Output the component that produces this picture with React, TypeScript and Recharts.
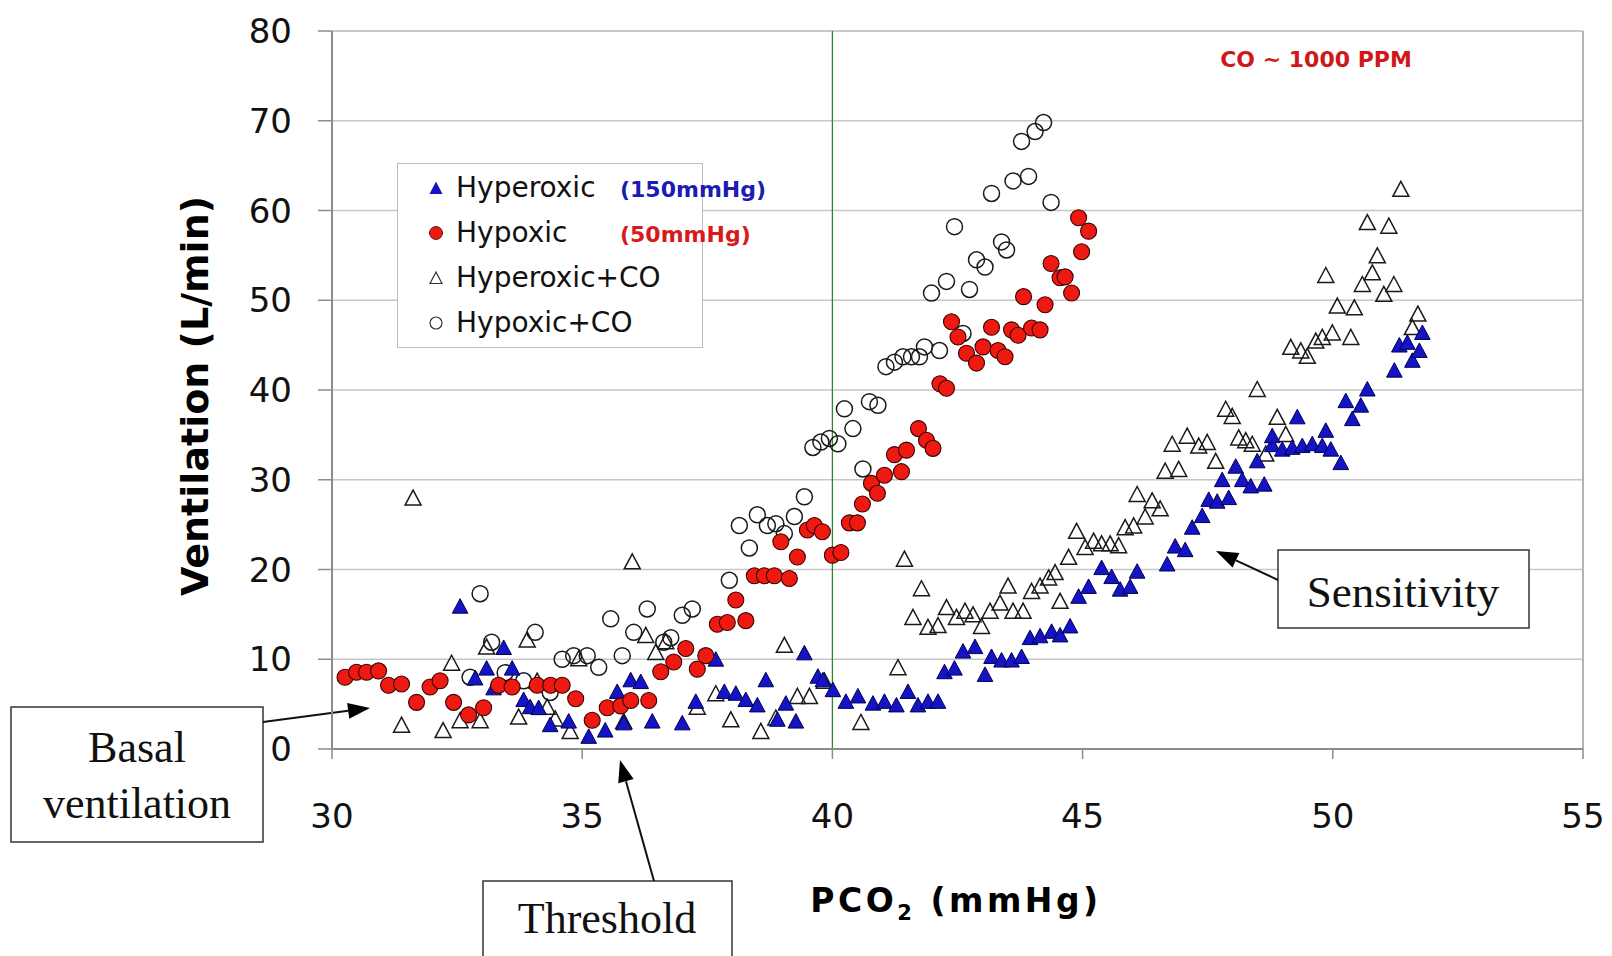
import React from 'react'
import {
  ScatterChart,
  Scatter,
  XAxis,
  YAxis,
  CartesianGrid,
  ReferenceLine,
  Legend,
  Customized,
} from 'recharts'

// PCO2 (mmHg) vs ventilation (L/min)
const xTicks = [30, 35, 40, 45, 50, 55]
const yTicks = [0, 10, 20, 30, 40, 50, 60, 70, 80]

const hyperoxic: number[][] = [
  [32.56, 15.8], [32.86, 7.8], [33.09, 8.9], [33.23, 6.7], [33.43, 11.2], [33.6, 8.9], [33.83, 5.4],
  [33.96, 4.6], [34.13, 4.5], [34.36, 2.6], [34.73, 3.0], [35.13, 1.3], [35.46, 2.0], [35.7, 6.3],
  [35.83, 2.8], [35.97, 7.6], [36.17, 7.4], [36.4, 3.0], [37.0, 2.8], [37.27, 5.2], [37.67, 9.9],
  [37.84, 6.3], [38.07, 6.1], [38.27, 5.4], [38.5, 4.8], [38.67, 7.6], [38.9, 3.2], [39.07, 5.0],
  [39.27, 3.0], [39.44, 10.6], [39.71, 8.0], [39.81, 7.6], [40.01, 6.5], [40.27, 5.2], [40.51, 5.8],
  [40.81, 5.0], [41.04, 5.2], [41.28, 4.8], [41.51, 6.3], [41.71, 4.8], [41.91, 5.2], [42.11, 5.2],
  [42.24, 8.5], [42.44, 8.9], [42.61, 10.8], [42.85, 11.3], [43.05, 8.2], [43.18, 10.2], [43.38, 9.8],
  [43.58, 9.8], [43.78, 10.2], [43.95, 12.3], [44.15, 12.5], [44.38, 13.0], [44.55, 12.6], [44.75, 13.6],
  [44.92, 16.9], [45.12, 18.0], [45.38, 20.1], [45.58, 19.1], [45.75, 17.7], [45.95, 18.0], [46.09, 19.7],
  [46.69, 20.5], [46.85, 22.5], [47.05, 22.1], [47.19, 24.6], [47.39, 25.9], [47.52, 27.7], [47.69, 27.5],
  [47.92, 27.9], [47.79, 29.9], [48.06, 31.4], [48.19, 29.9], [48.36, 29.2], [48.63, 29.4], [48.49, 32.0],
  [48.79, 33.8], [48.79, 34.8], [48.99, 33.3], [49.19, 33.5], [49.29, 36.9], [49.39, 33.7], [49.59, 33.9],
  [49.79, 33.7], [49.86, 35.4], [49.96, 33.3], [50.16, 31.8], [50.26, 38.7], [50.39, 36.7], [50.56, 38.2],
  [50.69, 40.0], [51.23, 42.1], [51.33, 44.9], [51.49, 45.2], [51.59, 43.2], [51.73, 44.3], [51.79, 46.3],
]

const hypoxic: number[][] = [
  [30.26, 8.0], [30.49, 8.55], [30.69, 8.55], [30.93, 8.7], [31.13, 7.1], [31.39, 7.25], [31.69, 5.2],
  [31.96, 6.9], [32.16, 7.6], [32.43, 5.2], [32.73, 3.8], [33.03, 4.6], [33.33, 7.1], [33.6, 6.9],
  [34.1, 7.1], [34.37, 7.1], [34.6, 7.1], [34.87, 5.6], [35.2, 3.2], [35.5, 4.6], [35.77, 4.8],
  [35.97, 5.4], [36.33, 5.4], [36.57, 8.6], [36.83, 9.7], [37.07, 11.2], [37.3, 8.9], [37.47, 10.4],
  [37.7, 13.9], [37.9, 14.1], [38.07, 16.6], [38.27, 14.3], [38.44, 19.3], [38.64, 19.3], [38.84, 19.3],
  [38.97, 23.1], [39.14, 19.0], [39.3, 21.4], [39.5, 24.4], [39.64, 24.9], [39.8, 24.2], [40.0, 21.6],
  [40.17, 21.9], [40.34, 25.2], [40.5, 25.2], [40.6, 27.3], [40.78, 29.6], [40.9, 28.5], [41.04, 30.5],
  [41.24, 32.8], [41.38, 30.9], [41.48, 33.3], [41.72, 35.7], [41.88, 34.4], [42.01, 33.5], [42.15, 40.7],
  [42.28, 40.2], [42.38, 47.6], [42.51, 45.9], [42.68, 44.1], [42.88, 43.0], [43.01, 44.8], [43.18, 47.0],
  [43.31, 44.4], [43.45, 43.7], [43.58, 46.7], [43.71, 46.1], [43.82, 50.4], [43.98, 46.9], [44.15, 46.7],
  [44.25, 49.5], [44.37, 54.1], [44.55, 52.5], [44.65, 52.6], [44.78, 50.8], [44.92, 59.2], [44.98, 55.4],
  [45.12, 57.7],
]

const hyperoxicCO: number[][] = [
  [31.39, 2.6], [31.62, 27.9], [32.22, 2.0], [32.39, 9.5], [32.56, 3.1], [32.96, 3.1], [33.09, 11.3],
  [33.73, 3.5], [33.9, 12.1], [34.1, 7.5], [34.3, 4.6], [34.46, 3.3], [34.76, 1.9], [34.93, 10.0],
  [35.83, 3.0], [36.0, 20.8], [36.27, 12.6], [36.47, 10.7], [36.67, 11.9], [37.3, 4.6], [37.67, 6.1],
  [37.97, 3.2], [38.57, 1.9], [38.87, 3.4], [39.04, 11.5], [39.3, 5.8], [39.54, 5.8], [39.84, 7.5],
  [40.57, 2.9], [41.31, 9.0], [41.44, 21.1], [41.61, 14.6], [41.78, 17.8], [41.91, 13.5], [42.11, 13.7],
  [42.28, 15.7], [42.48, 14.6], [42.65, 15.3], [42.81, 14.9], [42.98, 13.6], [43.15, 15.3], [43.35, 16.2],
  [43.51, 18.1], [43.61, 15.3], [43.81, 15.3], [43.98, 17.5], [44.15, 18.1], [44.32, 19.0], [44.45, 19.6],
  [44.55, 16.4], [44.72, 21.3], [44.88, 24.2], [45.05, 22.4], [45.22, 23.1], [45.38, 22.8], [45.55, 22.8],
  [45.72, 22.6], [45.85, 24.6], [46.02, 24.8], [46.09, 28.3], [46.25, 25.8], [46.39, 27.6], [46.55, 26.7],
  [46.65, 30.9], [46.79, 33.9], [46.92, 31.1], [47.09, 34.8], [47.32, 33.7], [47.49, 34.1], [47.66, 32.0],
  [47.86, 37.8], [47.99, 37.0], [48.12, 34.6], [48.26, 34.3], [48.39, 33.9], [48.49, 40.0], [48.66, 32.8],
  [48.89, 36.9], [49.06, 35.0], [49.16, 44.7], [49.36, 44.3], [49.49, 43.7], [49.66, 45.4], [49.79, 45.8],
  [49.86, 52.7], [49.99, 46.3], [50.09, 49.3], [50.36, 45.8], [50.43, 49.1], [50.59, 51.7], [50.69, 58.6],
  [50.79, 53.0], [50.89, 54.9], [51.02, 50.6], [51.12, 58.2], [51.22, 51.7], [51.36, 62.3], [51.59, 46.9],
  [51.7, 48.4],
]

const hypoxicCO: number[][] = [
  [32.76, 8.0], [32.96, 17.3], [33.19, 11.9], [33.46, 8.5], [33.83, 7.6], [34.06, 13.0], [34.36, 6.3],
  [34.6, 10.0], [34.83, 10.4], [35.1, 10.4], [35.33, 9.1], [35.57, 14.5], [35.8, 10.4], [36.03, 13.0],
  [36.3, 15.6], [36.63, 11.9], [36.77, 12.4], [37.0, 14.9], [37.2, 15.6], [37.94, 18.8], [38.14, 24.9],
  [38.34, 22.4], [38.5, 26.1], [38.7, 24.9], [38.87, 25.1], [39.04, 24.0], [39.24, 25.9], [39.44, 28.1],
  [39.61, 33.6], [39.77, 34.2], [39.94, 34.6], [40.11, 34.0], [40.24, 37.9], [40.41, 35.7], [40.61, 31.2],
  [40.74, 38.7], [40.91, 38.3], [41.07, 42.6], [41.24, 43.1], [41.41, 43.7], [41.58, 43.7], [41.74, 43.7],
  [41.84, 44.8], [42.14, 44.4], [41.98, 50.8], [42.28, 52.1], [42.44, 58.2], [42.61, 46.3], [42.74, 51.2],
  [42.88, 54.5], [43.05, 53.7], [43.18, 61.9], [43.38, 56.5], [43.48, 55.6], [43.61, 63.3], [43.78, 67.7],
  [43.92, 63.8], [44.05, 68.8], [44.22, 69.8], [44.37, 60.9],
]

const seriesNames = ['Hyperoxic', 'Hypoxic', 'Hyperoxic+CO', 'Hypoxic+CO']
const seriesNotes = ['(150mmHg)', '(50mmHg)', '', '']

const toPoints = (arr: number[][]) => arr.map(([x, y]) => ({ x, y }))

const BLUE = '#1414c4'
const RED = '#ee1a12'

const BlueTriangle = (p: any) => (
  <path
    d={`M${p.cx},${p.cy - 8.5} L${p.cx + 7.8},${p.cy + 6} L${p.cx - 7.8},${p.cy + 6} Z`}
    fill={BLUE}
    stroke='#000055'
    strokeWidth={1}
  />
)
const RedDot = (p: any) => <circle cx={p.cx} cy={p.cy} r={8} fill={RED} stroke='#3a0000' strokeWidth={1.1} />
const OpenTriangle = (p: any) => (
  <path
    d={`M${p.cx},${p.cy - 8.5} L${p.cx + 8},${p.cy + 6.5} L${p.cx - 8},${p.cy + 6.5} Z`}
    fill='none'
    stroke='#1a1a1a'
    strokeWidth={1.5}
  />
)
const OpenCircle = (p: any) => <circle cx={p.cx} cy={p.cy} r={8} fill='none' stroke='#1a1a1a' strokeWidth={1.5} />

const legendMarkers = [
  <path key='a' d='M8,1.5 L14.5,14 L1.5,14 Z' fill={BLUE} />,
  <circle key='b' cx={8} cy={8} r={6.5} fill={RED} stroke='#3a0000' strokeWidth={0.8} />,
  <path key='c' d='M8,2 L14,13.5 L2,13.5 Z' fill='none' stroke='#333' strokeWidth={1.2} />,
  <circle key='d' cx={8} cy={8} r={6} fill='none' stroke='#333' strokeWidth={1.2} />,
]
const noteColors = ['#1c1cb4', '#d81a1a', '', '']

const renderLegend = () => (
  <div
    style={{
      position: 'relative',
      width: 306,
      height: 185,
      border: '1.5px solid #bdbdbd',
      background: '#fff',
      boxSizing: 'border-box',
      overflow: 'visible',
    }}
  >
    {seriesNames.map((name, i) => (
      <div key={name} style={{ position: 'absolute', left: 0, top: 24 + i * 45 - 18, height: 36, width: 400 }}>
        <svg width={16} height={16} style={{ position: 'absolute', left: 30, top: 10 }}>
          {legendMarkers[i]}
        </svg>
        <span
          style={{
            position: 'absolute',
            left: 58,
            top: 0,
            fontFamily: 'DejaVu Sans, sans-serif',
            fontSize: 28,
            lineHeight: '36px',
            color: '#111',
            whiteSpace: 'nowrap',
          }}
        >
          {name}
        </span>
        {seriesNotes[i] && (
          <span
            style={{
              position: 'absolute',
              left: 222,
              top: 2,
              fontFamily: 'DejaVu Sans, sans-serif',
              fontWeight: 'bold',
              fontSize: 22,
              lineHeight: '36px',
              color: noteColors[i],
              whiteSpace: 'nowrap',
            }}
          >
            {seriesNotes[i]}
          </span>
        )}
      </div>
    ))}
  </div>
)

const arrow = (x1: number, y1: number, x2: number, y2: number, key: string) => {
  const a = Math.atan2(y2 - y1, x2 - x1)
  const len = 22
  const w = 8
  const bx = x2 - len * Math.cos(a)
  const by = y2 - len * Math.sin(a)
  const px = -Math.sin(a) * w
  const py = Math.cos(a) * w
  return (
    <g key={key}>
      <line x1={x1} y1={y1} x2={bx} y2={by} stroke='#111' strokeWidth={2} />
      <polygon points={`${x2},${y2} ${bx + px},${by + py} ${bx - px},${by - py}`} fill='#000' />
    </g>
  )
}

const serif = 'Liberation Serif, Times New Roman, serif'

const Annotations = () => (
  <g>
    <text
      x={195}
      y={396}
      transform='rotate(-90 195 396)'
      textAnchor='middle'
      dominantBaseline='central'
      fontFamily='DejaVu Sans, sans-serif'
      fontWeight='bold'
      fontSize={38}
      fill='#000'
    >
      Ventilation (L/min)
    </text>
    <text x={956} y={912} textAnchor='middle' fontFamily='DejaVu Sans, sans-serif' fontWeight='bold' fontSize={33} letterSpacing={3.5} fill='#000'>
      <tspan>PCO</tspan>
      <tspan fontSize={21} dy={8}>2</tspan>
      <tspan dy={-8}> (mmHg)</tspan>
    </text>
    <text x={1316} y={67} textAnchor='middle' fontFamily='DejaVu Sans, sans-serif' fontWeight='bold' fontSize={22} fill='#d01818'>
      CO ~ 1000 PPM
    </text>

    <rect x={11} y={707} width={252} height={135} fill='#fff' stroke='#333' strokeWidth={1.5} />
    <text x={137} y={762} textAnchor='middle' fontFamily={serif} fontSize={44} fill='#111'>Basal</text>
    <text x={137} y={818} textAnchor='middle' fontFamily={serif} fontSize={44} fill='#111'>ventilation</text>
    {arrow(263, 722, 370, 708, 'a1')}

    <rect x={483} y={881} width={249} height={90} fill='#fff' stroke='#333' strokeWidth={1.5} />
    <text x={607} y={933} textAnchor='middle' fontFamily={serif} fontSize={44} fill='#111'>Threshold</text>
    {arrow(654, 881, 620, 760, 'a2')}

    <rect x={1278} y={550} width={251} height={78} fill='#fff' stroke='#333' strokeWidth={1.5} />
    <text x={1403} y={607} textAnchor='middle' fontFamily={serif} fontSize={45} fill='#111'>Sensitivity</text>
    {arrow(1278, 580, 1216, 551, 'a3')}
  </g>
)

const tickStyle = { fontFamily: 'DejaVu Sans, sans-serif', fontSize: 34, fill: '#111' }
const axisGray = '#8c8c8c'

export default function App() {
  return (
    <div style={{ width: 1612, height: 956, position: 'relative', background: '#fff' }}>
      <style>{'body{margin:0;background:#fff}'}</style>
      <ScatterChart width={1612} height={956} margin={{ top: 31, right: 29, bottom: 0, left: 0 }}>
        <CartesianGrid vertical={false} stroke='#c6c6c6' strokeWidth={1.5} />
        <XAxis
          type='number'
          dataKey='x'
          domain={[30, 55]}
          ticks={xTicks}
          height={207}
          tickSize={10}
          tickMargin={45}
          tick={tickStyle}
          axisLine={{ stroke: axisGray, strokeWidth: 2 }}
          tickLine={{ stroke: axisGray, strokeWidth: 1.5 }}
        />
        <YAxis
          type='number'
          dataKey='y'
          domain={[0, 80]}
          ticks={yTicks}
          width={332}
          tickSize={14}
          tickMargin={26}
          tick={tickStyle}
          axisLine={{ stroke: axisGray, strokeWidth: 2 }}
          tickLine={{ stroke: axisGray, strokeWidth: 1.5 }}
        />
        <ReferenceLine y={80} stroke='#c6c6c6' strokeWidth={1.5} />
        <ReferenceLine x={55} stroke='#b4b4b4' strokeWidth={2} />
        <ReferenceLine x={40} stroke='#2a8a2a' strokeWidth={1.3} />
        <Scatter name={seriesNames[2]} data={toPoints(hyperoxicCO)} shape={OpenTriangle} isAnimationActive={false} />
        <Scatter name={seriesNames[3]} data={toPoints(hypoxicCO)} shape={OpenCircle} isAnimationActive={false} />
        <Scatter name={seriesNames[0]} data={toPoints(hyperoxic)} shape={BlueTriangle} isAnimationActive={false} />
        <Scatter name={seriesNames[1]} data={toPoints(hypoxic)} shape={RedDot} isAnimationActive={false} />
        <Legend
          layout='vertical'
          align='center'
          verticalAlign='middle'
          content={renderLegend}
          wrapperStyle={{ position: 'absolute', left: 397, top: 163, width: 306, height: 185 }}
        />
        <Customized component={Annotations} />
      </ScatterChart>
    </div>
  )
}
